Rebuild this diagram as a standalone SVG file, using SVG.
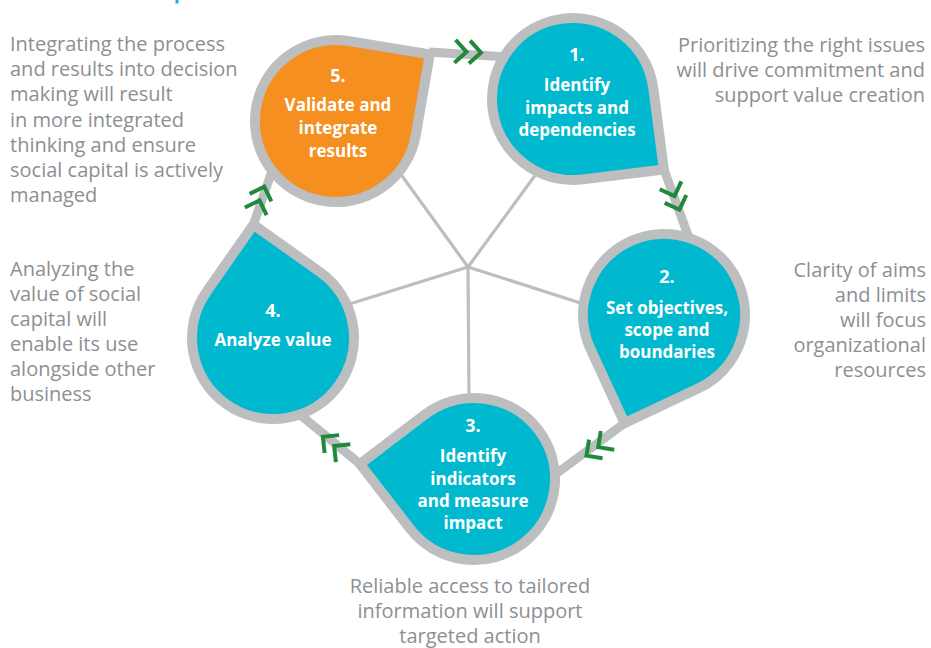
<svg xmlns="http://www.w3.org/2000/svg" xmlns:xlink="http://www.w3.org/1999/xlink" width="931" height="648" viewBox="0 0 931 648">
<style>
  .note { font-family: "Open Sans", "Noto Sans", "Liberation Sans", sans-serif; font-size: 20px; fill: #8d8f92; }
  .lbl { font-family: "Open Sans", "Noto Sans", "Liberation Sans", sans-serif; font-size: 17px; font-weight: 700; fill: #ffffff; text-anchor: middle; }
  .num { font-size: 18px; }
  .drop { stroke: #bcbec0; stroke-width: 10; stroke-linejoin: miter; stroke-miterlimit: 10; }
  .teal { fill: #00b9cf; }
  .orange { fill: #f58f1f; }
  .link { stroke: #bcbec0; stroke-width: 9; fill: none; stroke-linecap: butt; }
  .spoke { stroke: #bcbec0; stroke-width: 3.2; fill: none; }
  .chev { stroke: #1f8a3c; stroke-width: 4; fill: none; stroke-linejoin: miter; }
</style>
<defs>
  <path id="drop" d="M115,0 L57.07,57.48 A81,81 0 1 1 57.07,-57.48 Z"/>
  <path id="chevs" d="M-13,-11.5 L-1.5,0 L-13,11.5 M1.5,-11.5 L13,0 L1.5,11.5"/>
</defs>
<rect width="931" height="648" fill="#ffffff"/>
<rect x="175.5" y="0" width="3" height="3.5" fill="#1ab3d6"/>

<g id="connectors">
  <line class="link" x1="429" y1="52" x2="508" y2="57"/>
  <line class="link" x1="664" y1="169.5" x2="689" y2="238"/>
  <line class="link" x1="624.7" y1="423.1" x2="553" y2="476"/>
  <line class="link" x1="360" y1="464" x2="298" y2="413"/>
  <line class="link" x1="253.4" y1="224.7" x2="273" y2="168"/>
  <line class="spoke" x1="468" y1="267" x2="397" y2="169"/>
  <line class="spoke" x1="468" y1="267" x2="539" y2="170"/>
  <line class="spoke" x1="468" y1="267" x2="590" y2="306"/>
  <line class="spoke" x1="468" y1="267" x2="469" y2="400"/>
  <line class="spoke" x1="468" y1="267" x2="343" y2="306"/>
  <use xlink:href="#chevs" class="chev" transform="translate(468,52) rotate(3)"/>
  <use xlink:href="#chevs" class="chev" transform="translate(675,197.5) rotate(70)"/>
  <use xlink:href="#chevs" class="chev" transform="translate(597,448) rotate(144)"/>
  <use xlink:href="#chevs" class="chev" transform="translate(333,445) rotate(219)"/>
  <use xlink:href="#chevs" class="chev" transform="translate(260,199) rotate(-71)"/>
</g>

<g id="node5">
  <use xlink:href="#drop" class="drop orange" transform="translate(336,121) rotate(-35.4)"/>
  <text class="lbl num" x="338" y="82">5.</text>
  <text class="lbl" x="338" y="111">Validate and</text>
  <text class="lbl" x="338" y="134">integrate</text>
  <text class="lbl" x="338" y="157">results</text>
</g>

<g id="node1">
  <use xlink:href="#drop" class="drop teal" transform="translate(573,99) rotate(37.8)"/>
  <text class="lbl num" x="577" y="61">1.</text>
  <text class="lbl" x="577" y="91">Identify</text>
  <text class="lbl" x="577" y="113.5">impacts and</text>
  <text class="lbl" x="577" y="136">dependencies</text>
</g>

<g id="node2">
  <use xlink:href="#drop" class="drop teal" transform="translate(664,315) rotate(110)"/>
  <text class="lbl num" x="667" y="283">2.</text>
  <text class="lbl" x="667" y="314">Set objectives,</text>
  <text class="lbl" x="667" y="336">scope and</text>
  <text class="lbl" x="667" y="358">boundaries</text>
</g>

<g id="node3">
  <use xlink:href="#drop" class="drop teal" transform="translate(474,479) rotate(187.5)"/>
  <text class="lbl num" x="473" y="432">3.</text>
  <text class="lbl" x="473" y="462">Identify</text>
  <text class="lbl" x="473" y="484.5">indicators</text>
  <text class="lbl" x="473" y="507">and measure</text>
  <text class="lbl" x="473" y="529">impact</text>
</g>

<g id="node4">
  <use xlink:href="#drop" class="drop teal" transform="translate(273,338) rotate(260.2)"/>
  <text class="lbl num" x="273" y="317">4.</text>
  <text class="lbl" x="273" y="346">Analyze value</text>
</g>

<g id="notes">
  <text class="note" x="10" y="51">Integrating the process</text>
  <text class="note" x="10" y="76">and results into decision</text>
  <text class="note" x="10" y="101">making will result</text>
  <text class="note" x="10" y="127">in more integrated</text>
  <text class="note" x="10" y="152">thinking and ensure</text>
  <text class="note" x="10" y="177">social capital is actively</text>
  <text class="note" x="10" y="202">managed</text>

  <text class="note" x="10" y="276">Analyzing the</text>
  <text class="note" x="10" y="301">value of social</text>
  <text class="note" x="10" y="326">capital will</text>
  <text class="note" x="10" y="351">enable its use</text>
  <text class="note" x="10" y="376">alongside other</text>
  <text class="note" x="10" y="401">business</text>

  <text class="note" x="925" y="52" text-anchor="end">Prioritizing the right issues</text>
  <text class="note" x="925" y="77" text-anchor="end">will drive commitment and</text>
  <text class="note" x="925" y="102" text-anchor="end">support value creation</text>

  <text class="note" x="926" y="277" text-anchor="end">Clarity of aims</text>
  <text class="note" x="926" y="302" text-anchor="end">and limits</text>
  <text class="note" x="926" y="327" text-anchor="end">will focus</text>
  <text class="note" x="926" y="352" text-anchor="end">organizational</text>
  <text class="note" x="926" y="377" text-anchor="end">resources</text>

  <text class="note" x="470" y="593" text-anchor="middle">Reliable access to tailored</text>
  <text class="note" x="470" y="618" text-anchor="middle">information will support</text>
  <text class="note" x="470" y="643" text-anchor="middle">targeted action</text>
</g>
</svg>
